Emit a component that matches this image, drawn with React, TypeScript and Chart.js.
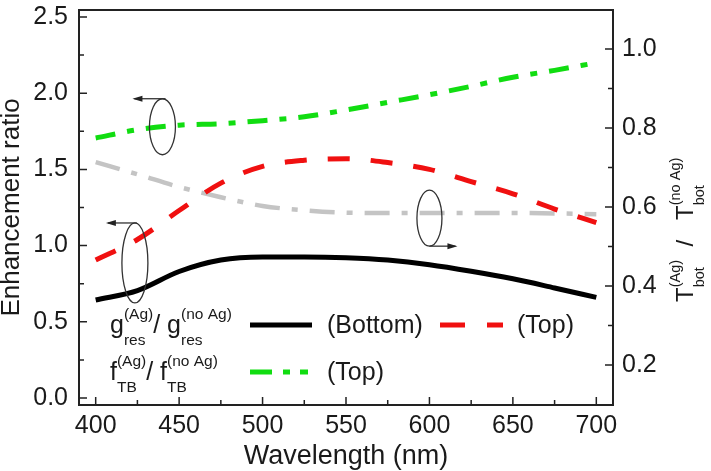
import React, { useEffect, useRef } from 'react';
import { Chart, registerables } from 'chart.js';

Chart.register(...registerables);

const FONT = '"Liberation Sans", Arial, sans-serif';
const TEXT = '#1a1a1a';

// ---- data ----
const wavelengths = [400, 425, 450, 475, 500, 525, 550, 575, 600, 625, 650, 675, 700];
const gResBottom = [0.643, 0.705, 0.83, 0.905, 0.925, 0.925, 0.92, 0.905, 0.875, 0.832, 0.782, 0.722, 0.66];
const gResTop = [0.905, 1.04, 1.23, 1.41, 1.52, 1.56, 1.57, 1.545, 1.5, 1.42, 1.34, 1.24, 1.15];
const fTbTop = [1.706, 1.76, 1.79, 1.8, 1.82, 1.845, 1.89, 1.94, 1.99, 2.045, 2.105, 2.15, 2.2];
const tBotRatio = [0.714, 0.683, 0.651, 0.625, 0.603, 0.592, 0.586, 0.585, 0.585, 0.585, 0.585, 0.584, 0.582];

const xTicks = [400, 450, 500, 550, 600, 650, 700];
const xMinorTicks = [425, 475, 525, 575, 625, 675];
const leftTicks = [0, 0.5, 1.0, 1.5, 2.0, 2.5];
const leftMinorTicks = [0.25, 0.75, 1.25, 1.75, 2.25];
const rightTicks = [0.2, 0.4, 0.6, 0.8, 1.0];
const rightMinorTicks = [0.3, 0.5, 0.7, 0.9];

const toPoints = (ys: number[]) => wavelengths.map((x, i) => ({ x, y: ys[i] }));

type Seg = { base?: string; sup?: string; sub?: string };

function drawRich(
  ctx: CanvasRenderingContext2D,
  x: number,
  y: number,
  segs: Seg[],
  baseSize: number,
  scriptSize: number,
  supDy: number,
  subDy: number
) {
  let cx = x;
  ctx.textBaseline = 'alphabetic';
  ctx.textAlign = 'left';
  for (const s of segs) {
    if (s.base) {
      ctx.font = `${baseSize}px ${FONT}`;
      ctx.fillText(s.base, cx, y);
      cx += ctx.measureText(s.base).width;
    }
    if (s.sup || s.sub) {
      ctx.font = `${scriptSize}px ${FONT}`;
      let w = 0;
      if (s.sup) {
        ctx.fillText(s.sup, cx, y + supDy);
        w = Math.max(w, ctx.measureText(s.sup).width);
      }
      if (s.sub) {
        ctx.fillText(s.sub, cx, y + subDy);
        w = Math.max(w, ctx.measureText(s.sub).width);
      }
      cx += w;
    }
  }
  return cx;
}

function arrow(ctx: CanvasRenderingContext2D, x1: number, y: number, x2: number) {
  ctx.beginPath();
  ctx.moveTo(x1, y);
  ctx.lineTo(x2, y);
  ctx.stroke();
  const dir = Math.sign(x2 - x1);
  ctx.beginPath();
  ctx.moveTo(x2 + dir * 2, y);
  ctx.lineTo(x2 - dir * 8, y - 3);
  ctx.lineTo(x2 - dir * 8, y + 3);
  ctx.closePath();
  ctx.fill();
}

const decorPlugin = {
  id: 'decor',
  afterDatasetsDraw(chart: any) {
    const ctx: CanvasRenderingContext2D = chart.ctx;
    const { left, right, top, bottom } = chart.chartArea;
    const sx = chart.scales.x;
    const sy = chart.scales.y;
    const sy2 = chart.scales.y2;
    ctx.save();

    // frame
    ctx.strokeStyle = '#222';
    ctx.lineWidth = 2;
    ctx.strokeRect(left, top, right - left, bottom - top);

    // tick marks (inward)
    ctx.lineWidth = 1.5;
    ctx.beginPath();
    xTicks.forEach((v) => { const p = sx.getPixelForValue(v); ctx.moveTo(p, bottom); ctx.lineTo(p, bottom - 8); });
    xMinorTicks.forEach((v) => { const p = sx.getPixelForValue(v); ctx.moveTo(p, bottom); ctx.lineTo(p, bottom - 5); });
    leftTicks.forEach((v) => { const p = sy.getPixelForValue(v); ctx.moveTo(left, p); ctx.lineTo(left + 8, p); });
    leftMinorTicks.forEach((v) => { const p = sy.getPixelForValue(v); ctx.moveTo(left, p); ctx.lineTo(left + 5, p); });
    rightTicks.forEach((v) => { const p = sy2.getPixelForValue(v); ctx.moveTo(right, p); ctx.lineTo(right - 8, p); });
    rightMinorTicks.forEach((v) => { const p = sy2.getPixelForValue(v); ctx.moveTo(right, p); ctx.lineTo(right - 5, p); });
    ctx.stroke();

    // annotation ellipses with arrows
    ctx.strokeStyle = '#333';
    ctx.fillStyle = '#222';
    ctx.lineWidth = 1.3;
    // green (left axis)
    {
      const cx = sx.getPixelForValue(440), cy = sy.getPixelForValue(1.78);
      ctx.beginPath(); ctx.ellipse(cx, cy, 13, 28, 0, 0, Math.PI * 2); ctx.stroke();
      arrow(ctx, cx + 3, cy - 28, cx - 28);
    }
    // g_res (left axis)
    {
      const cx = sx.getPixelForValue(423.5), cy = sy.getPixelForValue(0.886);
      ctx.beginPath(); ctx.ellipse(cx, cy, 13, 40, 0, 0, Math.PI * 2); ctx.stroke();
      arrow(ctx, cx + 2, cy - 40, cx - 27);
    }
    // T_bot (right axis)
    {
      const cx = sx.getPixelForValue(600), cy = sy2.getPixelForValue(0.572);
      ctx.beginPath(); ctx.ellipse(cx, cy, 12.5, 28, 0, 0, Math.PI * 2); ctx.stroke();
      arrow(ctx, cx, cy + 28, cx + 26);
    }

    // legend
    ctx.fillStyle = TEXT;
    const lx = left + 31;
    const row1 = top + 323;
    const row2 = top + 370;
    drawRich(ctx, lx, row1, [{ base: 'g', sup: '(Ag)', sub: 'res' }, { base: '/ g', sup: '(no Ag)', sub: 'res' }], 25, 15.5, -14, 12);
    drawRich(ctx, lx, row2, [{ base: 'f', sup: '(Ag)', sub: 'TB' }, { base: '/ f', sup: '(no Ag)', sub: 'TB' }], 25, 15.5, -14, 12);

    ctx.lineWidth = 5;
    ctx.lineCap = 'butt';
    // black solid
    ctx.strokeStyle = '#000';
    ctx.setLineDash([]);
    ctx.beginPath(); ctx.moveTo(left + 171, row1 - 8); ctx.lineTo(left + 233, row1 - 8); ctx.stroke();
    // red dashed
    ctx.strokeStyle = '#f01010';
    ctx.setLineDash([25, 22]);
    ctx.beginPath(); ctx.moveTo(left + 361, row1 - 8); ctx.lineTo(left + 424, row1 - 8); ctx.stroke();
    // green dash-dot-dot
    ctx.strokeStyle = '#11dd11';
    ctx.setLineDash([22, 11, 7, 10, 8, 10]);
    ctx.beginPath(); ctx.moveTo(left + 171, row2 - 8); ctx.lineTo(left + 233, row2 - 8); ctx.stroke();
    ctx.setLineDash([]);

    ctx.font = `25px ${FONT}`;
    ctx.textBaseline = 'alphabetic';
    ctx.textAlign = 'left';
    ctx.fillText('(Bottom)', left + 248, row1);
    ctx.fillText('(Top)', left + 438, row1);
    ctx.fillText('(Top)', left + 248, row2);

    // axis titles
    ctx.font = `27px ${FONT}`;
    ctx.textAlign = 'center';
    ctx.fillText('Wavelength (nm)', (left + right) / 2, 464);

    ctx.save();
    ctx.font = `26px ${FONT}`;
    ctx.translate(19, (top + bottom) / 2);
    ctx.rotate(-Math.PI / 2);
    ctx.textAlign = 'center';
    ctx.fillText('Enhancement ratio', 0, 0);
    ctx.restore();

    ctx.save();
    ctx.translate(right + 80, 302);
    ctx.rotate(-Math.PI / 2);
    drawRich(ctx, 0, 0, [{ base: 'T', sup: '(Ag)', sub: 'bot' }, { base: '  /   T', sup: '(no Ag)', sub: 'bot' }], 24, 14.5, -13, 11);
    ctx.restore();

    ctx.restore();
  },
};

const tickFont = { family: FONT, size: 25 };

const noPad = (s: any) => {
  s.paddingTop = 0;
  s.paddingBottom = 0;
  s.paddingLeft = 0;
  s.paddingRight = 0;
};

export default function App() {
  const ref = useRef<HTMLCanvasElement | null>(null);
  useEffect(() => {
    if (!ref.current) return;
    const chart = new Chart(ref.current, {
      type: 'line',
      data: {
        datasets: [
          { label: 'g Bottom', data: toPoints(gResBottom), yAxisID: 'y', borderColor: '#000', borderWidth: 5, pointRadius: 0, cubicInterpolationMode: 'monotone' },
          { label: 'f Top', data: toPoints(fTbTop), yAxisID: 'y', borderColor: '#11dd11', borderWidth: 5, borderDash: [20, 12, 7, 12], pointRadius: 0, cubicInterpolationMode: 'monotone' },
          { label: 'g Top', data: toPoints(gResTop), yAxisID: 'y', borderColor: '#f01010', borderWidth: 5, borderDash: [22, 21], pointRadius: 0, cubicInterpolationMode: 'monotone' },
          { label: 'T bot', data: toPoints(tBotRatio), yAxisID: 'y2', borderColor: '#c4c4c4', borderWidth: 4.5, borderDash: [25, 12, 6, 12], pointRadius: 0, cubicInterpolationMode: 'monotone' },
        ],
      } as any,
      options: {
        animation: false,
        responsive: false,
        maintainAspectRatio: false,
        layout: { padding: { top: 10, left: 0, right: 0, bottom: 0 } },
        plugins: { legend: { display: false }, tooltip: { enabled: false } },
        scales: {
          x: {
            type: 'linear',
            min: 390,
            max: 710,
            grid: { display: false, drawTicks: false },
            border: { display: false },
            ticks: { font: tickFont, color: TEXT, padding: 6, maxRotation: 0, autoSkip: false },
            afterBuildTicks: (s: any) => { s.ticks = xTicks.map((v) => ({ value: v })); },
            afterFit: (s: any) => { s.height = 66; noPad(s); },
          },
          y: {
            type: 'linear',
            position: 'left',
            min: -0.046,
            max: 2.546,
            grid: { display: false, drawTicks: false },
            border: { display: false },
            ticks: { font: tickFont, color: TEXT, padding: 11, autoSkip: false, callback: (v: any) => Number(v).toFixed(1) },
            afterBuildTicks: (s: any) => { s.ticks = leftTicks.map((v) => ({ value: v })); },
            afterFit: (s: any) => { s.width = 79; noPad(s); },
          },
          y2: {
            type: 'linear',
            position: 'right',
            min: 0.099,
            max: 1.099,
            grid: { display: false, drawTicks: false },
            border: { display: false },
            ticks: { font: tickFont, color: TEXT, padding: 9, autoSkip: false, callback: (v: any) => Number(v).toFixed(1) },
            afterBuildTicks: (s: any) => { s.ticks = rightTicks.map((v) => ({ value: v })); },
            afterFit: (s: any) => { s.width = 98; noPad(s); },
          },
        },
      } as any,
      plugins: [decorPlugin],
    });
    return () => chart.destroy();
  }, []);

  return (
    <div style={{ position: 'absolute', left: 0, top: 0, width: 711, height: 471, background: '#fff' }}>
      <canvas ref={ref} width={711} height={471} style={{ width: 711, height: 471, display: 'block' }} />
    </div>
  );
}
